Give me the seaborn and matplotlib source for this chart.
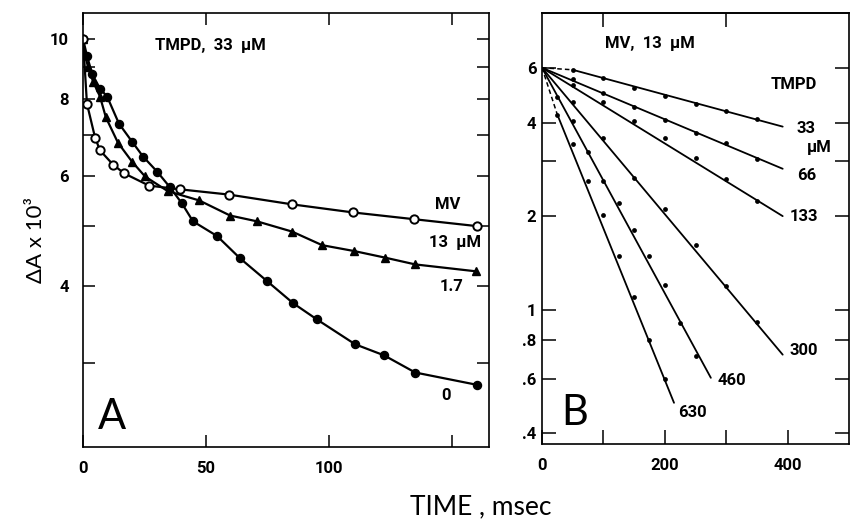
import matplotlib
matplotlib.use("Agg")
import matplotlib.pyplot as plt
import seaborn as sns
from matplotlib.ticker import FixedLocator, FixedFormatter, NullLocator

# ---------------- Panel A data (TMPD 33 uM, MV varied) ----------------
a_t_mv13 = [0, 1.6, 4.9, 6.9, 12.2, 16.7, 26.8, 39.4, 59.3, 85.0, 109.8, 134.6, 160.2]
a_y_mv13 = [10.0, 7.86, 6.93, 6.61, 6.27, 6.07, 5.80, 5.72, 5.61, 5.41, 5.25, 5.12, 4.99]
a_t_mv17 = [0, 0.8, 2.0, 4.1, 6.9, 9.3, 14.2, 19.9, 25.2, 34.5, 47.2, 59.8, 70.7, 85.0,
            97.2, 110.2, 122.8, 135.0, 159.8]
a_y_mv17 = [10.0, 9.43, 9.02, 8.53, 8.07, 7.47, 6.80, 6.34, 6.00, 5.68, 5.49, 5.19, 5.08,
            4.89, 4.65, 4.55, 4.44, 4.33, 4.22]
a_t_mv0 = [0, 1.6, 3.7, 6.9, 9.8, 14.6, 19.9, 24.4, 30.1, 35.4, 40.2, 44.7, 54.5, 63.8,
           74.8, 85.4, 95.1, 110.6, 122.4, 135.0, 160.2]
a_y_mv0 = [10.0, 9.39, 8.78, 8.31, 8.07, 7.30, 6.83, 6.46, 6.11, 5.76, 5.43, 5.08, 4.81,
           4.43, 4.07, 3.75, 3.53, 3.22, 3.09, 2.90, 2.77]

a_xticks = [0, 50, 100, 150]
a_xticklabels = ["0", "50", "100", ""]
a_yticks = [3, 4, 5, 6, 7, 8, 9, 10]
a_yticklabels = ["", "4", "", "6", "", "8", "", "10"]

# ---------------- Panel B data (MV 13 uM, TMPD varied) ----------------
b_t_7 = [50, 100, 150, 200, 250, 300, 350]
b_y_33 = [5.91, 5.57, 5.17, 4.88, 4.60, 4.36, 4.11]
b_y_66 = [5.53, 4.99, 4.49, 4.08, 3.71, 3.44, 3.06]
b_y_133 = [5.29, 4.67, 4.05, 3.57, 3.08, 2.64, 2.24]
b_y_300 = [4.67, 3.57, 2.66, 2.11, 1.61, 1.19, 0.915]
b_t_460 = [25, 50, 75, 100, 125, 150, 175, 200, 225, 250]
b_y_460 = [4.84, 4.05, 3.22, 2.60, 2.21, 1.81, 1.49, 1.20, 0.908, 0.711]
b_t_630 = [25, 50, 75, 100, 125, 150, 175, 200]
b_y_630 = [4.24, 3.42, 2.60, 2.02, 1.49, 1.10, 0.80, 0.60]

# fitted straight lines (start/end of each line)
fit_labels = ["33", "66", "133", "300", "460", "630"]
fit_t0 = [50, 0, 0, 0, 0, 25]
fit_y0 = [5.91, 6.0, 6.0, 6.0, 6.0, 4.24]
fit_t1 = [392, 392, 392, 392, 275, 215]
fit_y1 = [3.88, 2.84, 2.0, 0.717, 0.604, 0.502]
# dashed extrapolations back to t = 0
dash_t1 = [50, 25]
dash_y1 = [5.91, 4.24]
origin_y = 6.0

b_xticks = [0, 100, 200, 300, 400]
b_xticklabels = ["0", "", "200", "", "400"]
b_top_ticks = [100, 300]
b_yticks = [0.4, 0.6, 0.8, 1, 2, 3, 4, 6]
b_yticklabels = [".4", ".6", ".8", "1", "2", "", "4", "6"]

# ---------------- Style ----------------
sns.set_theme(style="ticks")
plt.rcParams["font.family"] = ["Roboto", "DejaVu Sans"]
plt.rcParams["font.weight"] = "bold"
plt.rcParams["axes.linewidth"] = 1.2
plt.rcParams["axes.edgecolor"] = "black"
THIN = ["Lato", "DejaVu Sans"]

fig = plt.figure(figsize=(8.51, 5.22), dpi=100)
fig.patch.set_facecolor("white")
axA = fig.add_axes([83 / 851, 75 / 522, 406 / 851, 434 / 522])
axB = fig.add_axes([542 / 851, 78 / 522, 307 / 851, 431 / 522])

# ---------------- Panel A ----------------
line_kw = dict(color="black", linewidth=1.6, estimator=None, sort=False, ax=axA)
sns.lineplot(x=a_t_mv0, y=a_y_mv0, marker="o", markersize=5.8, markerfacecolor="black",
             markeredgecolor="black", markeredgewidth=1.0, **line_kw)
sns.lineplot(x=a_t_mv17, y=a_y_mv17, marker="^", markersize=5.8, markerfacecolor="black",
             markeredgecolor="black", markeredgewidth=1.0, **line_kw)
sns.lineplot(x=a_t_mv13, y=a_y_mv13, marker="o", markersize=6.0, markerfacecolor="white",
             markeredgecolor="black", markeredgewidth=1.4, **line_kw)
axA.set_yscale("log")
axA.set_xlim(0, 165)
axA.set_ylim(2.2, 11.0)
axA.xaxis.set_major_locator(FixedLocator(a_xticks))
axA.xaxis.set_major_formatter(FixedFormatter(a_xticklabels))
axA.yaxis.set_major_locator(FixedLocator(a_yticks))
axA.yaxis.set_major_formatter(FixedFormatter(a_yticklabels))
axA.yaxis.set_minor_locator(NullLocator())
axA.xaxis.set_minor_locator(NullLocator())
axA.tick_params(direction="in", length=8.5, width=1.1, top=True, right=True,
                labelsize=12, pad=10, colors="black")
axA.set_xlabel("")
axA.set_ylabel("")

tkw = dict(transform=axA.transAxes, fontsize=12, fontweight="bold", ha="center", va="center",
           color="black")
axA.text(0.313, 0.926, "TMPD,  33  µM", **tkw)
axA.text(0.899, 0.558, "MV", **tkw)
axA.text(0.916, 0.472, "13  µM", **tkw)
axA.text(0.909, 0.369, "1.7", **tkw)
axA.text(0.894, 0.118, "0", **tkw)
axA.text(0.071, 0.069, "A", transform=axA.transAxes, fontsize=30, fontweight="normal",
         family=THIN, ha="center", va="center", color="black")

# ---------------- Panel B ----------------
for lab, t0, y0, t1, y1 in zip(fit_labels, fit_t0, fit_y0, fit_t1, fit_y1):
    sns.lineplot(x=[t0, t1], y=[y0, y1], color="black", linewidth=1.3, estimator=None,
                 sort=False, ax=axB)
for t1, y1 in zip(dash_t1, dash_y1):
    sns.lineplot(x=[0, t1], y=[origin_y, y1], color="black", linewidth=1.1, linestyle=(0, (3, 2)),
                 estimator=None, sort=False, ax=axB)
for tt, yy in [(b_t_7, b_y_33), (b_t_7, b_y_66), (b_t_7, b_y_133), (b_t_7, b_y_300),
               (b_t_460, b_y_460), (b_t_630, b_y_630)]:
    sns.scatterplot(x=tt, y=yy, color="black", s=12, linewidth=0, ax=axB)

axB.set_yscale("log")
axB.set_xlim(0, 500)
axB.set_ylim(0.37, 9.0)
axB.xaxis.set_major_locator(FixedLocator(b_xticks))
axB.xaxis.set_major_formatter(FixedFormatter(b_xticklabels))
axB.yaxis.set_major_locator(FixedLocator(b_yticks))
axB.yaxis.set_major_formatter(FixedFormatter(b_yticklabels))
axB.yaxis.set_minor_locator(NullLocator())
axB.xaxis.set_minor_locator(NullLocator())
axB.tick_params(axis="x", direction="in", length=10, width=1.1, top=False,
                labelsize=12, pad=10, colors="black")
axB.tick_params(axis="y", direction="in", length=10, width=1.1, right=True,
                labelsize=12, pad=4, colors="black")
sec = axB.secondary_xaxis("top")
sec.set_xticks(b_top_ticks)
sec.set_xticklabels(["", ""])
sec.tick_params(direction="in", length=10, width=1.1, colors="black")
axB.set_xlabel("")
axB.set_ylabel("")

bkw = dict(transform=axB.transAxes, fontsize=12, fontweight="bold", ha="center", va="center",
           color="black")
axB.text(0.351, 0.930, "MV,  13  µM", **bkw)
axB.text(0.821, 0.833, "TMPD", **bkw)
axB.text(0.860, 0.733, "33", **bkw)
axB.text(0.903, 0.689, "µM", **bkw)
axB.text(0.864, 0.624, "66", **bkw)
axB.text(0.854, 0.527, "133", **bkw)
axB.text(0.854, 0.216, "300", **bkw)
axB.text(0.617, 0.148, "460", **bkw)
axB.text(0.490, 0.074, "630", **bkw)
axB.text(0.107, 0.072, "B", transform=axB.transAxes, fontsize=30, fontweight="normal",
         family=THIN, ha="center", va="center", color="black")

# ---------------- Axis titles ----------------
fig.text(0.042, 0.54, "ΔA x 10³", rotation=90, fontsize=16, fontweight="normal",
         family=THIN, ha="center", va="center", color="black")
fig.text(481 / 851, 15 / 522, "TIME , msec", fontsize=19, fontweight="normal",
         family=THIN, ha="center", va="center", color="black")

fig.savefig("out.png", dpi=100, facecolor="white")
